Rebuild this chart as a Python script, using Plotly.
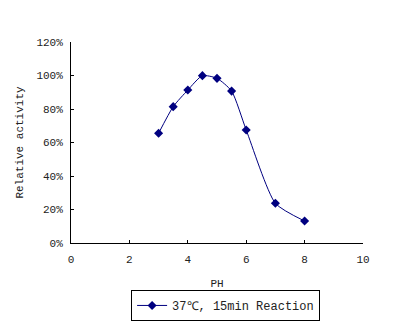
import plotly.graph_objects as go

ph = [3, 3.5, 4, 4.5, 5, 5.5, 6, 7, 8]
activity = [0.655, 0.814, 0.913, 0.999, 0.983, 0.907, 0.675, 0.237, 0.131]
series_name = "37℃, 15min Reaction"
x_ticks = [0, 2, 4, 6, 8, 10]
y_ticks = [0, 0.2, 0.4, 0.6, 0.8, 1.0, 1.2]

FONT = "Liberation Mono, DejaVu Sans Mono, monospace"
NAVY = "#000080"
TXT = "#222"

fig = go.Figure()
fig.add_trace(go.Scatter(
    x=ph, y=activity, name=series_name, mode="lines+markers",
    line=dict(color=NAVY, width=1, shape="spline", smoothing=0.6),
    marker=dict(symbol="diamond", size=7, color=NAVY),
    showlegend=True,
))

axis_common = dict(
    showgrid=False, zeroline=False, showline=True, linecolor="black", linewidth=1,
    ticks="inside", ticklen=3, tickcolor="black", mirror=False,
    tickfont=dict(family=FONT, size=11, color=TXT),
)
fig.update_layout(
    width=400, height=328,
    margin=dict(l=71, r=37, t=42, b=85, autoexpand=False),
    paper_bgcolor="white", plot_bgcolor="white",
    font=dict(family=FONT, size=11, color=TXT),
    xaxis=dict(range=[0, 10], tickvals=x_ticks, ticklabelstandoff=6,
               title=dict(text="PH", font=dict(family=FONT, size=11), standoff=14),
               **axis_common),
    yaxis=dict(range=[0, 1.2], tickvals=y_ticks, tickformat=".0%", ticklabelstandoff=5,
               title=dict(text="Relative activity", font=dict(family=FONT, size=11), standoff=10),
               **axis_common),
    legend=dict(xref="container", yref="container", x=0.564, y=0.116,
                xanchor="center", yanchor="top",
                orientation="h", bordercolor="black", borderwidth=1,
                bgcolor="white", font=dict(family=FONT, size=12, color=TXT),
                itemwidth=30),
    showlegend=True,
)
fig.write_html("out.html")
